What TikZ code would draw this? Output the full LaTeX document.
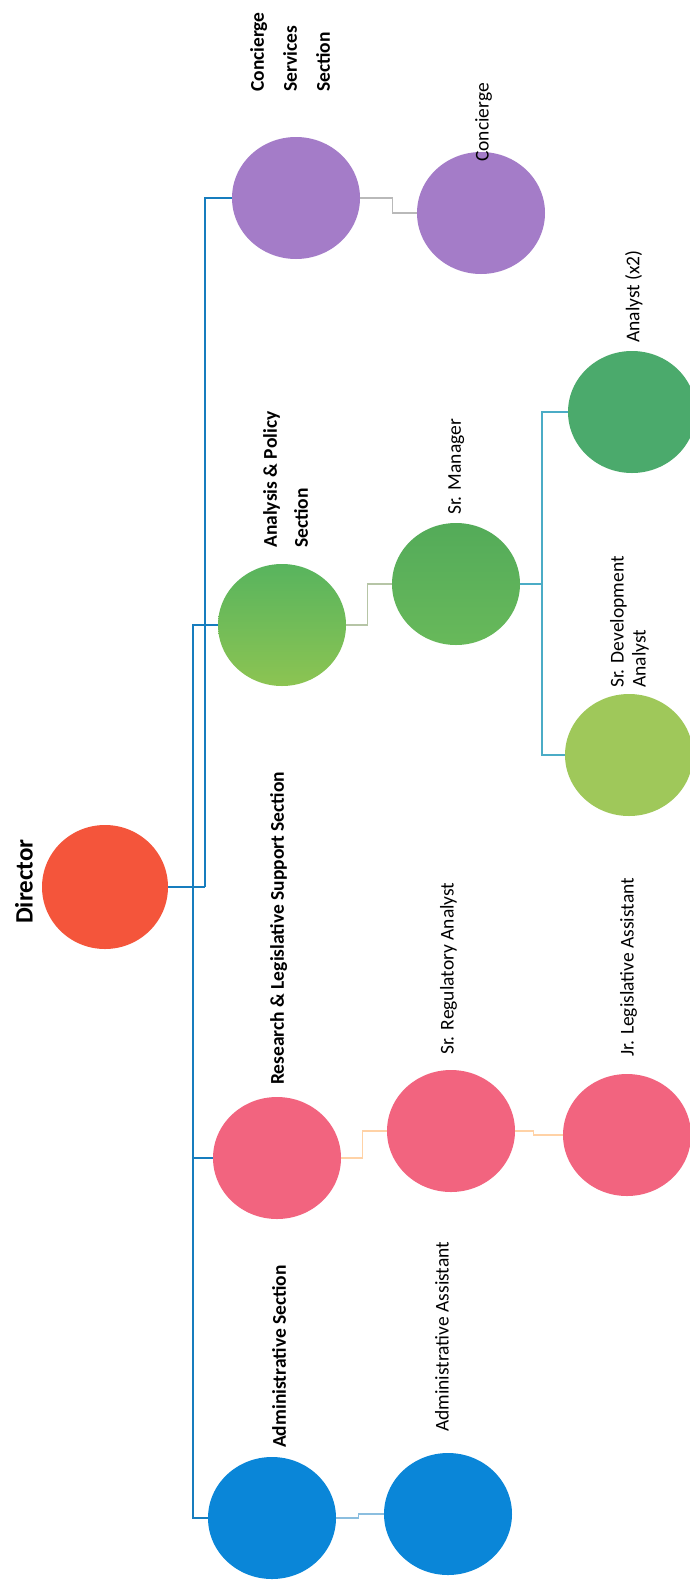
\documentclass[tikz,border=0pt]{standalone}
\usepackage{fontspec}
\setmainfont{Carlito}
\usetikzlibrary{shapes.geometric}
\definecolor{dircol}{HTML}{F4553B}
\definecolor{pinkcol}{HTML}{F2647F}
\definecolor{bluecol}{HTML}{0A86D8}
\definecolor{purplecol}{HTML}{A47CC8}
\definecolor{greenA}{HTML}{58B45E}
\definecolor{greenB}{HTML}{8CC452}
\definecolor{greenC}{HTML}{4BAA6C}
\definecolor{greenD}{HTML}{9FC85A}
\definecolor{trunkcol}{HTML}{177DBE}
\definecolor{teallink}{HTML}{4BACC6}
\begin{document}
\begin{tikzpicture}[x=1pt,y=-1pt,
  unit/.style={ellipse, minimum width=128pt, minimum height=122pt, inner sep=0pt, draw=none},
  lab/.style={rotate=90, anchor=north west, inner sep=0pt, align=left, text=black,
    font=\fontsize{19.5}{22}\selectfont},
  seclab/.style={lab, font=\fontsize{19.5}{32}\selectfont\bfseries},
  trunk/.style={draw=trunkcol, line width=2.2pt},
  thin/.style={line width=1.1pt}]
\useasboundingbox (0,0) rectangle (689,1585);
\fill[white] (0,0) rectangle (689,1585);

% circles
\node[unit, fill=dircol, minimum width=126pt, minimum height=124pt] (dir) at (105,887) {};
\node[unit, fill=purplecol] (conS) at (296,198) {};
\node[unit, fill=purplecol] (con) at (481,213) {};
\node[unit, top color=greenA, bottom color=greenB] (ana) at (282,625) {};
\node[unit, top color=greenA!95!black, bottom color=greenA!70!greenB] (mgr) at (456,584) {};
\node[unit, fill=greenC] (an2) at (632,412) {};
\node[unit, fill=greenD] (dev) at (629,755) {};
\node[unit, fill=pinkcol] (res) at (277,1158) {};
\node[unit, fill=pinkcol] (reg) at (451,1131) {};
\node[unit, fill=pinkcol] (jr) at (627,1135) {};
\node[unit, fill=bluecol] (adm) at (272,1518) {};
\node[unit, fill=bluecol] (ada) at (448,1514) {};

% labels
\node[lab, font=\fontsize{25}{30}\selectfont\bfseries] (tdir) at (15,924) {Director};
\node[seclab, font=\fontsize{19.5}{33}\selectfont\bfseries] (tconS) at (250,92) {Concierge\\Services\\Section};
\node[lab] (tcon) at (475,162) {Concierge};
\node[lab] (tan2) at (625,343) {Analyst (x2)};
\node[seclab, font=\fontsize{19.5}{31}\selectfont\bfseries] (tana) at (263,548) {Analysis \& Policy\\Section};
\node[lab] (tmgr) at (448,515) {Sr. Manager};
\node[lab, font=\fontsize{19.5}{22}\selectfont] (tdev) at (610,688) {Sr. Development\\Analyst};
\node[seclab] (tres) at (270,1085) {Research \& Legislative Support Section};
\node[lab] (treg) at (440,1055) {Sr. Regulatory Analyst};
\node[lab] (tjr) at (620,1057) {Jr. Legislative Assistant};
\node[seclab] (tadm) at (272,1448) {Administrative Section};
\node[lab] (tada) at (435,1432) {Administrative Assistant};

% trunk connectors
\coordinate (t1) at (193,887);
\coordinate (t2) at (205,887);
\draw[trunk] (dir.east) -- (t2);
\draw[trunk] (t2) |- (conS.west);
\draw[trunk] (ana.west) -| (t1) |- (adm.west);
\draw[trunk] (res.west) -- (res.west -| t1);

% secondary connectors
\draw[thin, draw=gray!55] (conS.east) -- ++(32,0) |- (con.west);
\draw[thin, draw=greenB!45!gray!60] (ana.east) -- ++(21,0) |- (mgr.west);
\coordinate (mj) at (542,584);
\draw[thin, draw=teallink, line width=1.6pt] (mgr.east) -- (mj);
\draw[thin, draw=teallink, line width=1.6pt] (an2.west) -| (mj);
\draw[thin, draw=teallink, line width=1.6pt] (mj) |- (dev.west);
\draw[thin, draw=orange!35] (res.east) -- ++(21,0) |- (reg.west);
\draw[thin, draw=orange!35] (reg.east) -- ++(18,0) |- (jr.west);
\draw[thin, draw=trunkcol!50] (adm.east) -- ++(22,0) |- (ada.west);
\end{tikzpicture}
\end{document}
